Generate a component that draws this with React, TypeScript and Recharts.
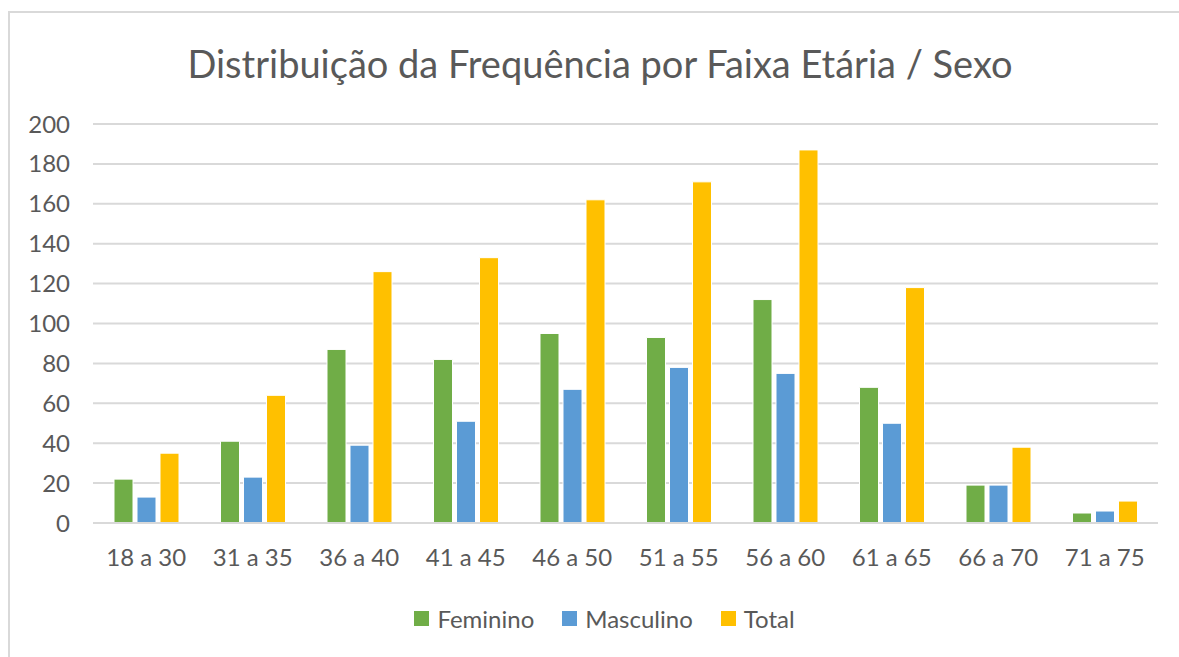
import {Bar, BarChart, CartesianGrid, Legend, XAxis, YAxis} from "recharts";

const faixas = ["18 a 30", "31 a 35", "36 a 40", "41 a 45", "46 a 50", "51 a 55", "56 a 60", "61 a 65", "66 a 70", "71 a 75"];
const feminino = [22, 41, 87, 82, 95, 93, 112, 68, 19, 5];
const masculino = [13, 23, 39, 51, 67, 78, 75, 50, 19, 6];
const total = [35, 64, 126, 133, 162, 171, 187, 118, 38, 11];
const yTicks = [0, 20, 40, 60, 80, 100, 120, 140, 160, 180, 200];

const data = faixas.map((faixa, i) => ({
    faixa,
    Feminino: feminino[i],
    Masculino: masculino[i],
    Total: total[i],
}));

const FONT = "Lato, 'Noto Sans', sans-serif";
const TEXT = "#595959";

function LegendContent(props: any) {
    const items = props.payload || [];
    return (
        <div style={{display: "flex", justifyContent: "center", alignItems: "center", fontFamily: FONT, fontSize: 24, color: TEXT, paddingLeft: 30}}>
            {items.map((it: any, i: number) => (
                <div key={it.value} style={{display: "flex", alignItems: "center", marginLeft: i === 0 ? 0 : 28}}>
                    <span style={{display: "inline-block", width: 15, height: 15, background: it.color, marginRight: 8}}/>
                    <span>{it.value}</span>
                </div>
            ))}
        </div>
    );
}

export default function App() {
    return (
        <div style={{position: "absolute", left: 0, top: 0, width: 1179, height: 657, overflow: "hidden", background: "#fff"}}>
            <div style={{position: "absolute", left: 8, top: 11, width: 1200, height: 700, border: "2px solid #d9d9d9", boxSizing: "border-box"}}/>
            <div style={{
                position: "absolute", left: 0, top: 40, width: 1200, textAlign: "center",
                fontFamily: FONT, fontSize: 38, color: TEXT, lineHeight: "46px",
            }}>
                Distribuição da Frequência por Faixa Etária / Sexo
            </div>
            <BarChart
                width={1179}
                height={657}
                data={data}
                margin={{top: 124, right: 21, left: 0, bottom: 94}}
                barSize={19}
                barGap={4}
                style={{position: "absolute", left: 0, top: 0}}
            >
                <CartesianGrid vertical={false} stroke="#d9d9d9" strokeWidth={2}/>
                <XAxis
                    dataKey="faixa"
                    height={40}
                    axisLine={{stroke: "#d9d9d9", strokeWidth: 2}}
                    tickLine={false}
                    tickMargin={20}
                    tick={{fill: TEXT, fontSize: 24, fontFamily: FONT}}
                    interval={0}
                />
                <YAxis
                    width={93}
                    domain={[0, 200]}
                    ticks={yTicks}
                    axisLine={false}
                    tickLine={false}
                    tickMargin={17}
                    tick={{fill: TEXT, fontSize: 24, fontFamily: FONT}}
                />
                <Legend
                    verticalAlign="middle"
                    align="center"
                    content={<LegendContent/>}
                    wrapperStyle={{top: 604, left: 0, width: 1179}}
                />
                <Bar dataKey="Feminino" fill="#70AD47" stroke="#ffffff" strokeWidth={1} isAnimationActive={false}/>
                <Bar dataKey="Masculino" fill="#5B9BD5" stroke="#ffffff" strokeWidth={1} isAnimationActive={false}/>
                <Bar dataKey="Total" fill="#FFC000" stroke="#ffffff" strokeWidth={1} isAnimationActive={false}/>
            </BarChart>
        </div>
    );
}
